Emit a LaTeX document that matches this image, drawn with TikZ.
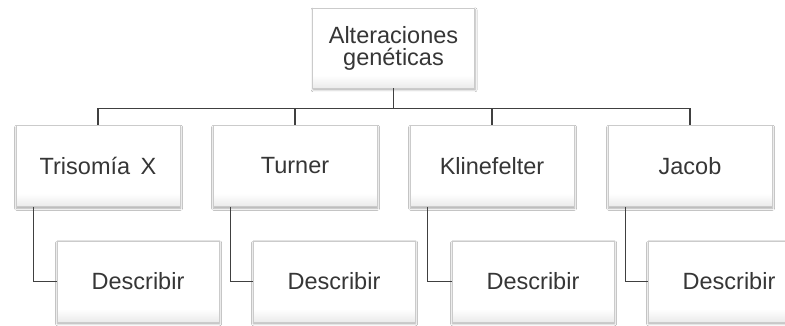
\documentclass[tikz,border=0pt]{standalone}
\usepackage{fontspec}
\setmainfont{Liberation Sans}
\usepackage{tikz}
\usetikzlibrary{shadows.blur}
\definecolor{textGray}{HTML}{363636}
\definecolor{lineGray}{HTML}{404040}
\definecolor{edgeGray}{HTML}{CBCBCB}
\pgfdeclareverticalshading{boxshade}{100bp}{color(0bp)=(gray!16); color(25bp)=(gray!16);
  color(33bp)=(white); color(100bp)=(white)}

\begin{document}
\begin{tikzpicture}[x=1pt,y=-1pt,
  box/.style={draw=edgeGray,line width=0.8pt,align=center,minimum width=162pt,minimum height=81pt,
    shading=boxshade,text=textGray,
    font=\fontsize{23.5}{22}\selectfont,
    blur shadow={shadow xshift=0.6pt,shadow yshift=-1.8pt,shadow blur radius=2pt,shadow opacity=35}},
  link/.style={draw=lineGray,line width=1.5pt}]
\clip (0,0) rectangle (785,326);
\fill[white] (0,0) rectangle (785,326);
\node[box,minimum height=80pt] (top) at (393.5,48) {Alteraciones\\genéticas};
\node[box,minimum width=164pt] (tri) at (98,166) {Trisomía\,\ X};
\node[box,minimum width=164pt] (tur) at (295,166) {Turner};
\node[box,minimum width=164pt] (kli) at (492,166) {Klinefelter};
\node[box,minimum width=164pt] (jac) at (690,166) {Jacob};
\node[box] (triD) at (138,281.5) {Describir};
\node[box] (turD) at (334,281.5) {Describir};
\node[box] (kliD) at (533,281.5) {Describir};
\node[box] (jacD) at (729,281.5) {Describir};
\draw[link] (top.south) -- ++(0,20) -| (tri.north);
\draw[link] (top.south) -- ++(0,20) -| (tur.north);
\draw[link] (top.south) -- ++(0,20) -| (kli.north);
\draw[link] (top.south) -- ++(0,20) -| (jac.north);
\draw[link] ([xshift=18pt]tri.south west) |- (triD.west);
\draw[link] ([xshift=18pt]tur.south west) |- (turD.west);
\draw[link] ([xshift=18pt]kli.south west) |- (kliD.west);
\draw[link] ([xshift=18pt]jac.south west) |- (jacD.west);
\end{tikzpicture}
\end{document}
